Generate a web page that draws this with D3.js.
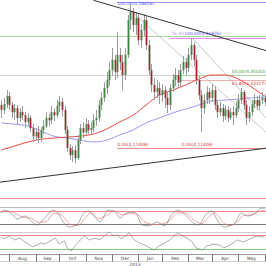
<!DOCTYPE html>
<html><head><meta charset="utf-8">
<script src="https://cdn.jsdelivr.net/npm/d3@7"></script>
<style>body{margin:0;background:#fff}svg{display:block}text{font-family:"DejaVu Sans",sans-serif}</style>
</head><body><svg id="c" width="266" height="266"></svg>
<script>
// ---- data ----
const opens = [4.253,4.237,4.256,4.282,4.253,4.230,4.243,4.211,4.230,4.220,
4.198,4.211,4.178,4.152,4.165,4.146,4.172,4.185,4.211,4.204,
4.230,4.220,4.250,4.263,4.237,4.172,4.114,4.091,4.107,4.081,
4.139,4.178,4.165,4.191,4.172,4.178,4.204,4.211,4.253,4.276,
4.308,4.334,4.366,4.399,4.360,4.415,4.392,4.350,4.415,4.528,
4.554,4.512,4.535,4.463,4.496,4.528,4.447,4.366,4.318,4.295,
4.308,4.285,4.301,4.276,4.253,4.308,4.334,4.350,4.327,4.366,
4.392,4.373,4.415,4.447,4.399,4.334,4.285,4.243,4.269,4.295,
4.276,4.301,4.253,4.230,4.243,4.217,4.237,4.211,4.230,4.220,
4.243,4.269,4.295,4.253,4.211,4.230,4.256,4.269,4.250,4.269,
4.276];
const highs = [4.269,4.276,4.301,4.295,4.263,4.256,4.253,4.243,4.250,4.230,
4.227,4.220,4.191,4.178,4.185,4.182,4.204,4.230,4.224,4.250,
4.243,4.269,4.282,4.276,4.250,4.185,4.126,4.120,4.123,4.156,
4.191,4.198,4.211,4.204,4.198,4.224,4.237,4.269,4.295,4.327,
4.360,4.392,4.438,4.415,4.489,4.438,4.415,4.438,4.544,4.577,
4.567,4.554,4.548,4.515,4.548,4.541,4.463,4.386,4.340,4.334,
4.327,4.321,4.314,4.295,4.321,4.353,4.373,4.366,4.386,4.412,
4.405,4.438,4.470,4.457,4.415,4.347,4.301,4.288,4.314,4.308,
4.321,4.314,4.269,4.263,4.256,4.253,4.250,4.243,4.250,4.263,
4.288,4.308,4.301,4.269,4.250,4.269,4.288,4.282,4.285,4.295,
4.288];
const lows = [4.211,4.224,4.243,4.237,4.211,4.204,4.191,4.198,4.204,4.178,
4.185,4.165,4.133,4.139,4.130,4.133,4.159,4.178,4.185,4.191,
4.201,4.211,4.230,4.217,4.159,4.101,4.075,4.068,4.065,4.075,
4.126,4.146,4.152,4.159,4.156,4.165,4.185,4.198,4.237,4.263,
4.288,4.314,4.347,4.334,4.340,4.366,4.301,4.334,4.405,4.496,
4.489,4.480,4.447,4.438,4.476,4.431,4.350,4.295,4.269,4.276,
4.256,4.263,4.243,4.227,4.237,4.295,4.314,4.308,4.314,4.353,
4.350,4.360,4.399,4.379,4.318,4.269,4.165,4.224,4.256,4.256,
4.263,4.237,4.211,4.217,4.198,4.204,4.198,4.204,4.188,4.211,
4.230,4.256,4.237,4.188,4.198,4.217,4.243,4.237,4.237,4.256,
4.250];
const closes = [4.237,4.256,4.282,4.253,4.230,4.243,4.211,4.230,4.220,4.198,
4.211,4.178,4.152,4.165,4.146,4.172,4.185,4.211,4.204,4.230,
4.220,4.250,4.263,4.237,4.172,4.114,4.091,4.107,4.081,4.139,
4.178,4.165,4.191,4.172,4.178,4.204,4.211,4.253,4.276,4.308,
4.334,4.366,4.399,4.360,4.415,4.392,4.350,4.415,4.528,4.554,
4.512,4.535,4.463,4.496,4.528,4.447,4.366,4.318,4.295,4.308,
4.285,4.301,4.276,4.253,4.308,4.334,4.350,4.327,4.366,4.392,
4.373,4.415,4.447,4.399,4.334,4.285,4.243,4.269,4.295,4.276,
4.301,4.253,4.230,4.243,4.217,4.237,4.211,4.230,4.220,4.243,
4.269,4.295,4.253,4.211,4.230,4.256,4.269,4.250,4.269,4.276,
4.263];

const maIdx  = [0,5,10,15,20,25,30,35,40,45,50,55,60,65,70,75,80,85,90,95,100];
const maRed  = [4.107,4.120,4.133,4.142,4.146,4.149,4.152,4.159,4.175,4.198,4.220,4.253,4.285,4.301,4.318,4.337,4.350,4.350,4.337,4.311,4.282];
const maBlue = [4.195,4.191,4.185,4.169,4.152,4.146,4.139,4.133,4.139,4.156,4.172,4.195,4.211,4.227,4.240,4.253,4.266,4.269,4.272,4.276,4.279];

const stochKIdx = [0,1,4,6,9,11,13.5,16.5,19.5,21.5,23.5,26,29,31,33,35.5,37.5,40.5,43,45,47,49,51,53.5,56,59,62,64.5,67,70,72.5,75,77.5,80,82,84.5,86.5,89,91,93.5,96,99,100];
const stochK    = [71,84,66,43,57,38,15,48,84,71,29,6,20,66,80,52,29,84,80,48,66,75,71,15,11,29,11,61,84,61,29,15,61,80,38,6,11,29,71,57,66,94,89];
const stochDIdx = [0,2,5,8,11,14,17,20,23,26,29,32,34,37,40,43,46,49,52,55,58,61,64,67,70,73,76,79,81,84,87,90,92,95,98,100];
const stochD    = [75,80,72,52,48,28,30,70,60,20,12,50,72,45,60,80,62,70,60,25,18,20,38,72,70,40,22,55,72,30,12,35,60,62,78,85];

const rsiIdx = [0,1,3,5,7,9,11,12,15,16.5,18.5,20.5,22,24,25,26.5,28,30,31.5,33.5,35.5,37.5,39,41,42.5,44,45.5,47,48.5,50.5,52.5,54.5,56.5,58,60,62,64,65.5,67,69,70.5,72.5,74,76.5,78,81,83,84.5,87.5,89.5,92,95,97,100];
const rsi    = [64,59,67,56,61,50,41,36,47,44,53,61,44,53,33,24,39,56,67,56,61,56,67,79,67,70,59,67,76,56,47,41,33,27,39,47,56,67,76,67,61,50,33,27,39,44,41,33,44,56,50,61,67,64];

const monthStarts = [3,13,22,32,42,52,61,71,80,90,100];
const monthLabels = ["Aug","Sep","Oct","Nov","Dec","Jan","Feb","Mar","Apr","May"];
const yearLabel = "2013";

// horizontal (fibonacci) levels: price, start index, colour
const levelPrice = [4.58656, 4.47505, 4.46876, 4.35032, 4.35032, 4.33327, 4.11408, 3.951];
const levelStart = [44, -0.5, 64, -0.5, 68, 68, 44, -0.5];
const levelColor = ["#9a9af2","#a9d6a0","#e58ae5","#d4d4d4","#a9d6a0","#f2b0b0","#f08a8a","#f08a8a"];
const levelLabels = [
  {i:44, p:4.58656, t:"100.00(4.58656)", c:"#5a5af0", dy:3.2, anchor:"start"},
  {i:64.5, p:4.47505, t:"76.40", c:"#b49ae8", dy:-1.5, anchor:"start"},
  {i:69.5, p:4.47505, t:"100.00(4.46876)", c:"#5a5af0", dy:-1.5, anchor:"start"},
  {i:100.5, p:4.35032, t:"50.00(4.35032)", c:"#3a9a3a", dy:-1.5, anchor:"end"},
  {i:100.5, p:4.33327, t:"61.80(4.33327)", c:"#e04040", dy:4.6, anchor:"end"},
  {i:44, p:4.11408, t:"0.00(4.11408)", c:"#e04040", dy:-1.5, anchor:"start"},
  {i:68.5, p:4.11408, t:"0.00(4.11408)", c:"#e04040", dy:-1.5, anchor:"start"}
];
// trend lines: [i1,p1,i2,p2]
const trendBlack = [[35,4.592,101,4.428],[-0.5,4.003,100.5,4.113]];
const trendGray  = [[48,4.567,100.5,4.165],[72.5,4.470,100.5,4.211]];

// ---- drawing ----
const W = 266;
const svg = d3.select("#c");
const x = d3.scaleLinear().domain([-0.5, 100.5]).range([0, W]);
const y = d3.scaleLinear().domain([3.955, 4.593]).range([197, 0]);

svg.append("defs").append("clipPath").attr("id","mc").append("rect").attr("x",0).attr("y",0).attr("width",W).attr("height",201);
const main = svg.append("g").attr("clip-path","url(#mc)");

levelPrice.forEach((p,k)=>{
  main.append("line").attr("x1",x(levelStart[k])).attr("x2",W)
    .attr("y1",Math.round(y(p))+0.5).attr("y2",Math.round(y(p))+0.5)
    .attr("stroke",levelColor[k]).attr("stroke-width",1);
});

trendGray.forEach(t=>{
  main.append("line").attr("x1",x(t[0])).attr("y1",y(t[1])).attr("x2",x(t[2])).attr("y2",y(t[3]))
    .attr("stroke","#b0b0b0").attr("stroke-width",0.7);
});

const maLine = d3.line().x((d,i)=>x(maIdx[i])).y(d=>y(d)).curve(d3.curveMonotoneX);
main.append("path").attr("d",maLine(maBlue)).attr("fill","none").attr("stroke","#9a9af5").attr("stroke-width",1);
main.append("path").attr("d",maLine(maRed)).attr("fill","none").attr("stroke","#f04848").attr("stroke-width",1);

const idx = d3.range(closes.length);
const cg = main.append("g");
cg.selectAll("line.w").data(idx).join("line").attr("class","w")
  .attr("x1",i=>Math.round(x(i))+0.5).attr("x2",i=>Math.round(x(i))+0.5)
  .attr("y1",i=>y(highs[i])).attr("y2",i=>y(lows[i]))
  .attr("stroke","#9c9c9c").attr("stroke-width",1);
cg.selectAll("rect").data(idx).join("rect")
  .attr("x",i=>Math.round(x(i))-0.3).attr("width",1.6)
  .attr("y",i=>y(Math.max(opens[i],closes[i])))
  .attr("height",i=>Math.max(1,Math.abs(y(opens[i])-y(closes[i]))))
  .attr("fill",i=>closes[i]>=opens[i]?"#3b8a3b":"#a52626")
  .attr("stroke","#9c9c9c").attr("stroke-width",0.35);

trendBlack.forEach(t=>{
  main.append("line").attr("x1",x(t[0])).attr("y1",y(t[1])).attr("x2",x(t[2])).attr("y2",y(t[3]))
    .attr("stroke","#333").attr("stroke-width",1);
});

levelLabels.forEach(l=>{
  main.append("text").attr("x",x(l.i)).attr("y",y(l.p)+l.dy).attr("font-size",4.4)
    .attr("text-anchor",l.anchor).attr("fill",l.c).text(l.t);
});

// ---- stochastic panel ----
const ys = d3.scaleLinear().domain([0,100]).range([228.3,206.7]);
[[100,"#bdbdbd"],[80,"#f08a8a"],[20,"#7a7a7a"]].forEach(([v,c])=>{
  svg.append("line").attr("x1",0).attr("x2",W).attr("y1",Math.round(ys(v))+0.5).attr("y2",Math.round(ys(v))+0.5)
    .attr("stroke",c).attr("stroke-width",1);
});
svg.append("path").attr("d",d3.line().x((d,i)=>x(stochDIdx[i])).y(d=>ys(d)).curve(d3.curveMonotoneX)(stochD))
  .attr("fill","none").attr("stroke","#f28080").attr("stroke-width",0.7);
svg.append("path").attr("d",d3.line().x((d,i)=>x(stochKIdx[i])).y(d=>ys(d)).curve(d3.curveMonotoneX)(stochK))
  .attr("fill","none").attr("stroke","#777").attr("stroke-width",0.6);

// ---- RSI panel ----
const yr = d3.scaleLinear().domain([0,100]).range([259.5,224.5]);
svg.append("line").attr("x1",0).attr("x2",W).attr("y1",232.5).attr("y2",232.5).attr("stroke","#cfcfcf");
[[70,"#f08a8a"],[30,"#7ccf7c"]].forEach(([v,c])=>{
  svg.append("line").attr("x1",0).attr("x2",W).attr("y1",Math.round(yr(v))+0.5).attr("y2",Math.round(yr(v))+0.5)
    .attr("stroke",c).attr("stroke-width",1);
});
svg.append("path").attr("d",d3.line().x((d,i)=>x(rsiIdx[i])).y(d=>yr(d))(rsi))
  .attr("fill","none").attr("stroke","#777").attr("stroke-width",0.6);

// ---- time axis ----
svg.append("line").attr("x1",0).attr("x2",W).attr("y1",254.5).attr("y2",254.5).attr("stroke","#9a9a9a");
svg.append("line").attr("x1",0).attr("x2",W).attr("y1",261.5).attr("y2",261.5).attr("stroke","#d0d0d0");
monthStarts.forEach(m=>{
  svg.append("line").attr("x1",Math.round(x(m))+0.5).attr("x2",Math.round(x(m))+0.5)
    .attr("y1",254.5).attr("y2",261.5).attr("stroke","#777");
});
monthLabels.forEach((t,k)=>{
  svg.append("text").attr("x",(x(monthStarts[k])+x(monthStarts[k+1]))/2).attr("y",260)
    .attr("text-anchor","middle").attr("font-size",4.4).attr("fill","#444").text(t);
});
svg.append("text").attr("x",135).attr("y",265.5).attr("text-anchor","middle")
  .attr("font-size",4.4).attr("fill","#444").text(yearLabel);
</script></body></html>
